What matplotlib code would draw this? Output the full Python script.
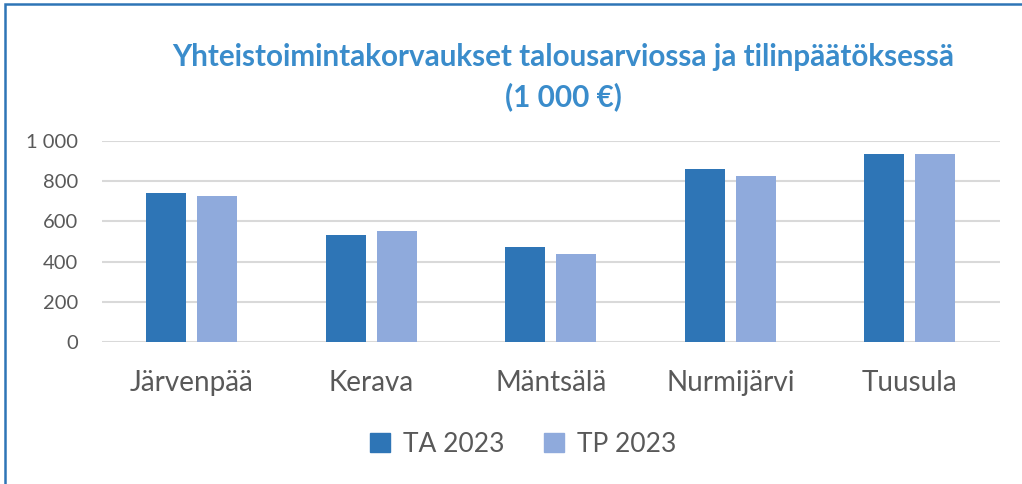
import matplotlib.pyplot as plt
import numpy as np
from matplotlib.patches import Rectangle, Patch
from matplotlib import font_manager

kunnat = ['Järvenpää', 'Kerava', 'Mäntsälä', 'Nurmijärvi', 'Tuusula']
ta_2023 = [740, 532, 472, 860, 934]
tp_2023 = [728, 552, 437, 826, 934]
sarjat = ['TA 2023', 'TP 2023']

names = {f.name for f in font_manager.fontManager.ttflist}
base = 'Lato' if 'Lato' in names else 'DejaVu Sans'
plt.rcParams['font.family'] = [base, 'DejaVu Sans']

fig = plt.figure(figsize=(10.22, 4.84), dpi=100)
ax = fig.add_axes([0.0998, 0.2934, 0.978 - 0.0998, 0.7087 - 0.2934])

x = np.arange(len(kunnat))
w = 0.223
ax.bar(x - 0.142, ta_2023, w, color='#2E75B6')
ax.bar(x + 0.142, tp_2023, w, color='#8FAADC')

ax.set_xlim(-0.5, len(kunnat) - 0.5)
ax.set_ylim(0, 1000)
ax.set_yticks([0, 200, 400, 600, 800, 1000])
ax.set_yticklabels(['0', '200', '400', '600', '800', '1 000'])
ax.set_xticks(x)
ax.set_xticklabels(kunnat)
ax.tick_params(axis='y', length=0, pad=17, labelsize=14.5, labelcolor='#595959')
ax.tick_params(axis='x', length=0, pad=20, labelsize=20, labelcolor='#595959')
ax.yaxis.grid(True, color='#D9D9D9', linewidth=1.5)
ax.set_axisbelow(True)
for s in ax.spines.values():
    s.set_visible(False)

fig.text(0.551, 0.882, 'Yhteistoimintakorvaukset talousarviossa ja tilinpäätöksessä',
         ha='center', va='center', fontsize=21.3, fontweight='bold', color='#3A8CCB')
fig.text(0.551, 0.80, '(1 000 €)', ha='center', va='center',
         fontsize=21.3, fontweight='bold', color='#3A8CCB')

handles = [Patch(color='#2E75B6'), Patch(color='#8FAADC')]
fig.legend(handles, sarjat, loc='center', bbox_to_anchor=(0.512, 0.082), ncol=2,
           frameon=False, fontsize=19, labelcolor='#595959', handlelength=0.75,
           handleheight=0.75, handletextpad=0.5, columnspacing=1.5)

fig.patches.append(Rectangle((5 / 1022, -0.1), 1.2, 1.1 - 4 / 484, transform=fig.transFigure,
                             fill=False, edgecolor='#2E75B6', linewidth=1.8))

fig.savefig('out.png', dpi=100)
